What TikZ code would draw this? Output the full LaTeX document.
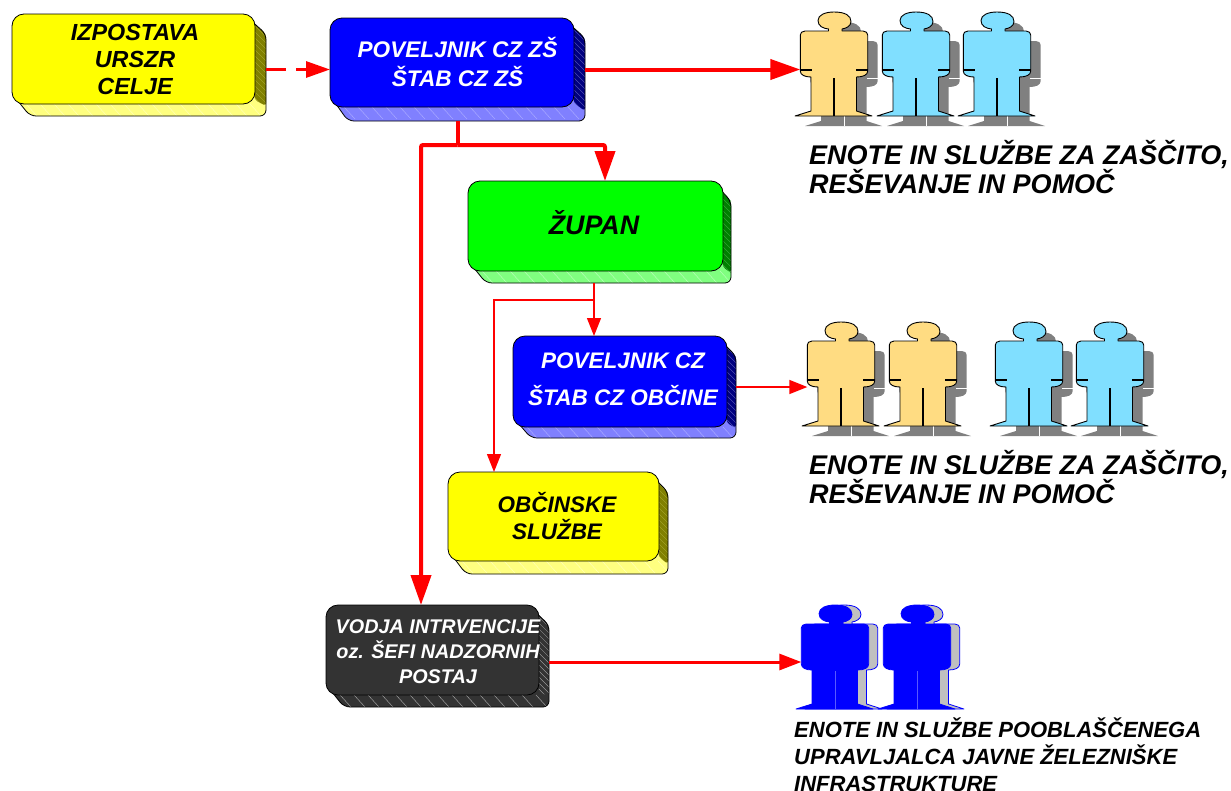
\documentclass[tikz,border=0pt]{standalone}
\usepackage{fontspec}
\setmainfont{Liberation Sans}
\usetikzlibrary{arrows.meta}
\definecolor{skin}{HTML}{FFDC82}
\definecolor{sky}{HTML}{80DFFF}
\definecolor{shadowgray}{HTML}{808080}
\definecolor{lightshadow}{HTML}{C0C0C0}
\definecolor{pureblue}{HTML}{0000FF}
\definecolor{ink}{HTML}{333333}
\definecolor{yfront}{HTML}{FFFF00}
\definecolor{yside}{HTML}{808000}
\definecolor{ybot}{HTML}{FFFF80}
\definecolor{yhs}{HTML}{B8B840}
\definecolor{yhb}{HTML}{FFFFC0}
\definecolor{bside}{HTML}{000080}
\definecolor{bbot}{HTML}{8080FF}
\definecolor{bhs}{HTML}{6060C0}
\definecolor{bhb}{HTML}{B0B0FF}
\definecolor{gfront}{HTML}{00FF00}
\definecolor{gside}{HTML}{008000}
\definecolor{gbot}{HTML}{80FF80}
\definecolor{ghs}{HTML}{40B040}
\definecolor{ghb}{HTML}{C0FFC0}
\definecolor{ihs}{HTML}{B0B0B0}
\tikzset{
  boxfront/.style={draw=black,line width=0.8pt,rounded corners=12pt,inner sep=0pt,outer sep=0pt},
  boxlabel/.style={align=center,inner sep=0pt},
  sidelabel/.style={align=left,anchor=west,inner sep=0pt,text=black},
  outer/.style={inner sep=0pt,outer sep=0pt},
  bigline/.style={draw=red,line width=4pt},
  bigarrow/.style={bigline,-{Triangle[length=30pt,width=20pt]}},
  midarrow/.style={draw=red,line width=3pt,-{Triangle[length=22pt,width=16pt]}},
  thinline/.style={draw=red,line width=1.4pt},
  thinarrow/.style={thinline,-{Triangle[length=18pt,width=14pt]}},
  dasharrow/.style={draw=red,line width=3pt,dash pattern=on 20pt off 10pt on 40pt,-{Triangle[length=24pt,width=16pt]}},
}
\newcommand\palyellow{\def\cfront{yfront}\def\cside{yside}\def\cbot{ybot}\def\hside{yhs}\def\hbot{yhb}}
\newcommand\palblue{\def\cfront{pureblue}\def\cside{bside}\def\cbot{bbot}\def\hside{bhs}\def\hbot{bhb}}
\newcommand\palgreen{\def\cfront{gfront}\def\cside{gside}\def\cbot{gbot}\def\hside{ghs}\def\hbot{ghb}}
\newcommand\palink{\def\cfront{ink}\def\cside{ink}\def\cbot{ink}\def\hside{ihs}\def\hbot{ihs}}
% name; x0 y0 x1 y1 x2 y2; palette
\newcommand\bevel[8]{%
  #8%
  \pgfmathsetmacro\cxa{(#2+#6)/2}\pgfmathsetmacro\cya{(#3+#7)/2}%
  \pgfmathsetmacro\wa{#6-#2}\pgfmathsetmacro\ha{#7-#3}%
  \pgfmathsetmacro\wb{#4-#2}\pgfmathsetmacro\hb{#5-#3}%
  \pgfmathsetmacro\cxb{(#2+#4)/2}\pgfmathsetmacro\cyb{(#3+#5)/2}%
  \node[outer,minimum width=\wa pt,minimum height=\ha pt] (#1) at (\cxa,\cya) {};
  \fill[\cbot,rounded corners=6pt] (#2+6,#5-3) -- (#2+18,#7) -- (#6,#7) -- (#6,#5-12) -- (#4,#5-12) -- (#4-10,#5) -- cycle;
  \begin{scope}
    \clip[rounded corners=6pt] (#2+6,#5-3) -- (#2+18,#7) -- (#6,#7) -- (#6,#5-12) -- (#4,#5-12) -- cycle;
    \foreach \k in {0,14,...,280} {\draw[\hbot,line width=0.4pt] (#2+\k,#5) -- ++(11,12);}
  \end{scope}
  \fill[\cside,rounded corners=3pt] (#4-8,#3+3) -- (#6,#3+20) -- (#6,#7-10) -- (#4,#5-4) -- cycle;
  \begin{scope}
    \clip (#4-8,#3+3) -- (#6,#3+20) -- (#6,#7-10) -- (#4,#5-4) -- cycle;
    \foreach \k in {0,6,...,114} {\draw[\hside,line width=0.35pt] (#4,#3+\k) -- ++(12,12);}
  \end{scope}
  \draw[black,line width=0.8pt,rounded corners=6pt,line join=round] (#4-8,#3+3) -- (#6,#3+20) -- (#6,#7) -- (#2+18,#7) -- (#2+6,#5-3);
  \node[boxfront,fill=\cfront,minimum width=\wb pt,minimum height=\hb pt] (#1-front) at (\cxb,\cyb) {};
}
\def\personshape{(-5.5,19) -- (-5.5,17) .. controls (-11,16.5) and (-16,14) .. (-16,8.5) .. controls (-16,3) and (-9,0) .. (0,0) .. controls (11,0) and (17,3.5) .. (17,9.5) .. controls (17,14) and (12,16.5) .. (8,17) -- (8,19) -- (29,19) .. controls (32,19) and (33.7,21) .. (33.7,23) -- (33.7,59) .. controls (33.7,63) and (29,65) .. (22.5,65) -- (22.5,99) -- (38,104) -- (-39,104) -- (-23,99) -- (-23,65) .. controls (-29,65) and (-33.7,63) .. (-33.7,59) -- (-33.7,23) .. controls (-33.7,21) and (-32,19) .. (-29,19) -- cycle}
\newcommand\person[4]{%
  \node[outer,minimum width=67.4pt,minimum height=104pt] (#1) at (#2,#3+52) {};
  \begin{scope}[shift={(#2+10,#3+10)}]
    \fill[shadowgray] \personshape;
    \draw[white,line width=0.9pt] (0,66) -- (0,104);
    \draw[white,line width=0.9pt] (23,56) -- (34,56);
  \end{scope}
  \begin{scope}[shift={(#2,#3)}]
    \filldraw[fill=#4,draw=black,line width=0.9pt,line join=round] \personshape;
    \draw[black,line width=1.4pt] (0,66) -- (0,104);
    \draw[black,line width=1.4pt] (-33.7,58) -- (-22,58) (22,58) -- (33.7,58);
  \end{scope}}
\newcommand\blueperson[3]{%
  \node[outer,minimum width=67.4pt,minimum height=104pt] (#1) at (#2,#3+52) {};
  \begin{scope}[shift={(#2+9,#3)}]
    \filldraw[fill=lightshadow,draw=pureblue,line width=0.8pt,line join=round] \personshape;
  \end{scope}
  \begin{scope}[shift={(#2,#3)}]
    \filldraw[fill=pureblue,draw=pureblue,line width=0.8pt,line join=round] \personshape;
    \draw[blue!65!white,line width=0.4pt] (0,66) -- (0,104);
  \end{scope}}
\begin{document}
\begin{tikzpicture}[x=1pt,y=-1pt]
\useasboundingbox (0,0) rectangle (1231,790);
\clip (0,0) rectangle (1231,790);

\bevel{izp}{12}{14}{255}{104}{266}{116}{\palyellow}
\bevel{pov}{330}{18}{574}{107}{585}{121}{\palblue}
\bevel{zup}{468}{181}{723}{271}{731}{283}{\palgreen}
\bevel{povb}{513}{336}{727}{427}{736}{438}{\palblue}
\bevel{obc}{448}{472}{659}{561}{668}{574}{\palyellow}
\bevel{vod}{326}{605}{539}{695}{549}{707}{\palink}

\node[boxlabel,text=black,font=\fontsize{23.3}{27}\selectfont\bfseries\itshape] (tizp) at (135,59) {IZPOSTAVA\\URSZR\\CELJE};
\node[boxlabel,text=white,font=\fontsize{22.6}{29}\selectfont\bfseries\itshape] (tpov) at (457.5,61.5) {POVELJNIK CZ ZŠ\\ŠTAB CZ ZŠ};
\node[boxlabel,text=black,font=\fontsize{26.8}{30}\selectfont\bfseries\itshape] (tzup) at (594,223) {ŽUPAN};
\node[boxlabel,text=white,font=\fontsize{22.5}{37}\selectfont\bfseries\itshape] (tpovb) at (623,379) {POVELJNIK CZ\\ŠTAB CZ OBČINE};
\node[boxlabel,text=black,font=\fontsize{22.5}{27}\selectfont\bfseries\itshape] (tobc) at (557,516) {OBČINSKE\\SLUŽBE};
\node[boxlabel,text=white,font=\fontsize{19.8}{25}\selectfont\bfseries\itshape] (tvod) at (438,651.5) {VODJA INTRVENCIJE\\oz. ŠEFI NADZORNIH\\POSTAJ};

\person{pa}{834}{12}{skin}
\person{pb}{916}{12}{sky}
\person{pc}{997}{12}{sky}
\person{pd}{841}{322}{skin}
\person{pe}{923}{322}{skin}
\person{pf}{1029}{322}{sky}
\person{pg}{1110}{322}{sky}
\blueperson{ph}{835}{605}
\blueperson{pi}{917}{605}

\node[sidelabel,font=\fontsize{27}{29}\selectfont\bfseries\itshape] (la) at (809,167) {ENOTE IN SLUŽBE ZA ZAŠČITO,\\REŠEVANJE IN POMOČ};
\node[sidelabel,font=\fontsize{27}{29}\selectfont\bfseries\itshape] (lb) at (809,477) {ENOTE IN SLUŽBE ZA ZAŠČITO,\\REŠEVANJE IN POMOČ};
\node[sidelabel,font=\fontsize{22}{27}\selectfont\bfseries\itshape] (lc) at (794,755) {ENOTE IN SLUŽBE POOBLAŠČENEGA\\UPRAVLJALCA JAVNE ŽELEZNIŠKE\\INFRASTRUKTURE};

\coordinate (ja) at (457.5,145);
\coordinate (jb) at (605,145);
\coordinate (jc) at (421,145);
\coordinate (jd) at (594,300);
\coordinate (je) at (494,300);

\draw[dasharrow] (izp.east |- pov.west) -- (pov.west);
\draw[bigarrow] (pov.east) -- (pa.west |- pov.east);
\draw[bigline] (pov.south) -- (ja);
\draw[bigarrow,rounded corners=2pt] (ja) -- (jb) -- (jb |- zup.north);
\draw[bigarrow,rounded corners=2pt] (ja) -- (jc) -- (jc |- vod.north);
\draw[thinline] (jd |- zup.south) -- (jd);
\draw[thinarrow] (jd) -- (jd |- povb.north);
\draw[thinarrow] (jd) -- (je) -- (je |- obc.north);
\draw[thinarrow] (povb.east) -- (pd.west |- povb.east);
\coordinate (jf) at (549,662);
\draw[midarrow] (jf) -- (ph.west |- jf);
\end{tikzpicture}
\end{document}
